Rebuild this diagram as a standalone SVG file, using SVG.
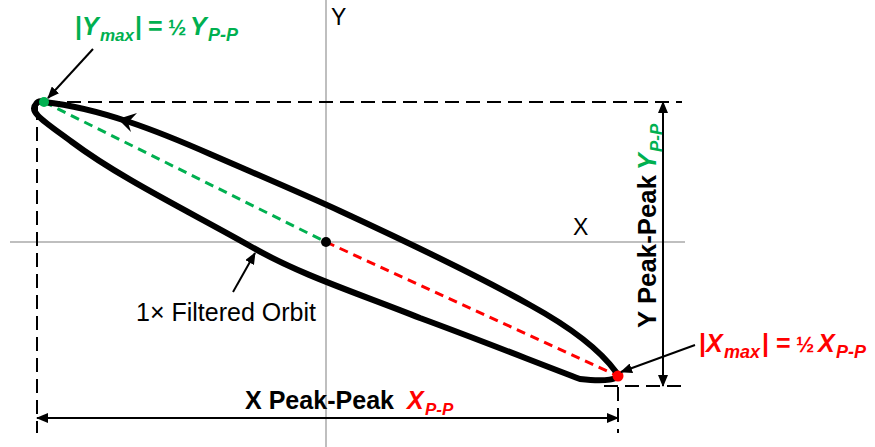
<svg xmlns="http://www.w3.org/2000/svg" width="875" height="447" viewBox="0 0 875 447">
<defs>
<style>
.axis{stroke:#BFBFBF;stroke-width:2;fill:none}
.dash{stroke:#000;stroke-width:2;stroke-dasharray:14 7;fill:none}
.dim{stroke:#000;stroke-width:2;fill:none;marker-start:url(#ah);marker-end:url(#ah)}
.lead{stroke:#000;stroke-width:2;fill:none;marker-end:url(#ah)}
.orbit{fill:none;stroke:#000;stroke-width:6;stroke-linejoin:round;stroke-linecap:round}
.gdash{stroke:#00B050;stroke-width:3;stroke-dasharray:9 6;fill:none}
.rdash{stroke:#FF0000;stroke-width:3;stroke-dasharray:9 6;fill:none}
text{font-family:"Liberation Sans",Arial,sans-serif}
.lbl{font-size:25px;fill:#000}
.b{font-weight:bold}
.bi{font-weight:bold;font-style:italic}
.green{fill:#00B050}
.red{fill:#FF0000}
</style>
<marker id="ah" viewBox="0 0 12 10" refX="11" refY="5" markerWidth="12" markerHeight="10" orient="auto-start-reverse" markerUnits="userSpaceOnUse">
<path d="M0,0 L12,5 L0,10 Z" fill="#000"/>
</marker>
</defs>
<rect width="875" height="447" fill="#fff"/>

<g id="axes">
<line class="axis" x1="326" y1="0" x2="326" y2="447"/>
<line class="axis" x1="10" y1="242" x2="685" y2="242"/>
<text x="331" y="25" font-size="23">Y</text>
<text x="573" y="235" font-size="23">X</text>
</g>

<g id="extent-lines">
<line class="dash" x1="46" y1="102" x2="682" y2="102"/>
<line class="dash" x1="37" y1="106" x2="37" y2="433"/>
<line class="dash" x1="604" y1="386" x2="682" y2="386"/>
<line class="dash" x1="618" y1="387" x2="618" y2="433"/>
</g>

<g id="radius-lines">
<line class="gdash" x1="44" y1="102" x2="326" y2="242"/>
<line class="rdash" x1="326" y1="242" x2="618" y2="376"/>
</g>

<g id="orbit">
<path class="orbit" d="M44,102 C100,108 160,132 210,154 C270,180 310,197 340,211 C420,248 480,277 530,305 C570,327 600,350 616,372 C622,380 605,382 580,379 C540,364 480,340 420,318 C360,294 300,275 250,246 C190,212 120,178 72,142 C45,122 28,112 36,104 C38,101 41,101 44,102 Z"/>
<polygon points="118,119 137,113 128,122.5 131,132" fill="#000"/>
</g>

<g id="points">
<circle cx="44" cy="102" r="5" fill="#00B050"/>
<circle cx="618" cy="376" r="5.5" fill="#FF0000"/>
<circle cx="326" cy="242" r="5" fill="#000"/>
</g>

<g id="connectors">
<line class="dim" x1="37" y1="418" x2="618" y2="418"/>
<line class="dim" x1="663" y1="102" x2="663" y2="386"/>
<line class="lead" x1="93" y1="49" x2="48" y2="98"/>
<line class="lead" x1="695" y1="345" x2="621" y2="372"/>
<line class="lead" x1="233" y1="292" x2="255" y2="253"/>
</g>

<g id="label-ymax">
<text class="green b" font-size="25">
<tspan x="75" y="35">|</tspan>
<tspan class="bi" x="82" y="35">Y</tspan>
<tspan class="bi" x="100" y="41" font-size="17">max</tspan>
<tspan x="135" y="35">|</tspan>
<tspan x="148" y="35">=</tspan>
<tspan x="168" y="35" font-size="22">½</tspan>
<tspan class="bi" x="190" y="35">Y</tspan>
<tspan class="bi" x="208" y="41" font-size="18">P-P</tspan>
</text>
</g>

<g id="label-xmax">
<text class="red b" font-size="25">
<tspan x="699" y="352">|</tspan>
<tspan class="bi" x="706" y="352">X</tspan>
<tspan class="bi" x="724" y="358" font-size="18">max</tspan>
<tspan x="762" y="352">|</tspan>
<tspan x="776" y="352">=</tspan>
<tspan x="796" y="352" font-size="22">½</tspan>
<tspan class="bi" x="818" y="352">X</tspan>
<tspan class="bi" x="836" y="358" font-size="18">P-P</tspan>
</text>
</g>

<g id="label-orbit">
<text class="lbl" x="136" y="321" font-size="25">1× Filtered Orbit</text>
</g>

<g id="label-xpp">
<text class="lbl b" y="409"><tspan x="245" textLength="149" lengthAdjust="spacingAndGlyphs">X Peak-Peak</tspan><tspan class="bi red" x="407" y="409">X</tspan><tspan class="bi red" x="425" y="415" font-size="17">P-P</tspan></text>
</g>

<g id="label-ypp">
<text class="lbl b" transform="translate(656,328) rotate(-90)" y="0"><tspan x="0" textLength="153" lengthAdjust="spacingAndGlyphs">Y Peak-Peak</tspan><tspan class="bi green" x="158" y="0">Y</tspan><tspan class="bi green" x="176" y="6" font-size="17">P-P</tspan></text>
</g>
</svg>
